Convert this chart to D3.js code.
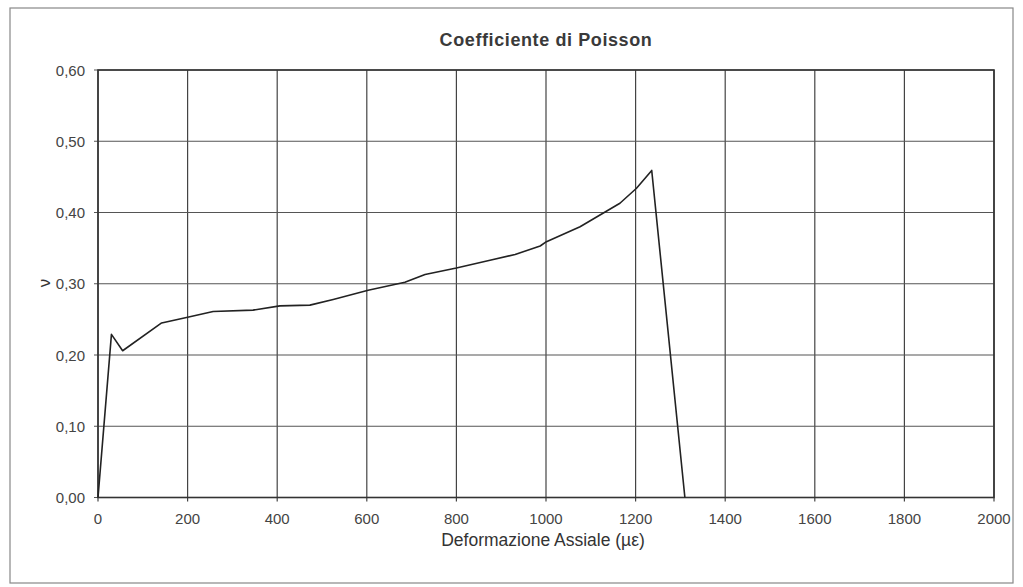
<!DOCTYPE html>
<html><head><meta charset="utf-8">
<script src="https://cdn.jsdelivr.net/npm/d3@7"></script>
<style>body{margin:0;background:#fff}svg{display:block}text{font-family:"Liberation Sans",Arial,sans-serif;fill:#333}</style>
</head><body><svg id="c" width="1023" height="587"></svg>
<script>
const title = "Coefficiente di Poisson";
const xTitle = "Deformazione Assiale (\u00b5\u03b5)";
const yTitle = "\u03bd";
const xTicks = [0,200,400,600,800,1000,1200,1400,1600,1800,2000];
const yTicks = [0,0.1,0.2,0.3,0.4,0.5,0.6];
const strain = [0,30,55,142,200,257,346,406,473,525,603,685,730,800,875,931,987,1001,1076,1165,1202,1236,1310];
const poisson = [0,0.229,0.206,0.245,0.253,0.261,0.263,0.269,0.270,0.278,0.291,0.302,0.313,0.322,0.333,0.341,0.353,0.359,0.380,0.413,0.434,0.459,0];

const svg = d3.select("#c");
const L=98,R=994,T=70,B=497.5;
const x = d3.scaleLinear().domain([0,2000]).range([L,R]);
const y = d3.scaleLinear().domain([0,0.6]).range([B,T]);
const fmt = d => d3.format(".2f")(d).replace(".", ",");

svg.append("rect").attr("x",10).attr("y",8).attr("width",1003).attr("height",575)
  .attr("fill","none").attr("stroke","#888").attr("stroke-width",1.2);

// grid
svg.append("g").selectAll("line").data(xTicks).join("line")
  .attr("x1",d=>x(d)).attr("x2",d=>x(d)).attr("y1",T).attr("y2",B+4)
  .attr("stroke","#444").attr("stroke-width",1.2);
svg.append("g").selectAll("line").data(yTicks).join("line")
  .attr("x1",L-4).attr("x2",R).attr("y1",d=>y(d)).attr("y2",d=>y(d))
  .attr("stroke","#555").attr("stroke-width",1.2);
svg.append("rect").attr("x",L).attr("y",T).attr("width",R-L).attr("height",B-T)
  .attr("fill","none").attr("stroke","#333").attr("stroke-width",1.6);

// axes labels
svg.append("g").selectAll("text").data(xTicks).join("text")
  .attr("x",d=>x(d)).attr("y",B+26).attr("text-anchor","middle")
  .attr("font-size",15).style("fill","#444").text(d=>d);
svg.append("g").selectAll("text").data(yTicks).join("text")
  .attr("x",L-13).attr("y",d=>y(d)+5.5).attr("text-anchor","end")
  .attr("font-size",15).style("fill","#444").text(fmt);

svg.append("text").attr("x",(L+R)/2).attr("y",46).attr("text-anchor","middle")
  .attr("font-size",18).attr("font-weight","bold").style("letter-spacing","0.6px")
  .style("fill","#3a3a3a").text(title);
svg.append("text").attr("x",543).attr("y",546).attr("text-anchor","middle")
  .attr("font-size",17.5).style("fill","#333").text(xTitle);
svg.append("text").attr("transform","translate(44,283) rotate(-90)").attr("text-anchor","middle")
  .attr("dy","0.35em").attr("font-size",17).text(yTitle);

const line = d3.line().x((d,i)=>x(strain[i])).y(d=>y(d));
svg.append("path").datum(poisson).attr("d",line).attr("fill","none")
  .attr("stroke","#222").attr("stroke-width",1.6).attr("stroke-linejoin","round");
</script></body></html>
